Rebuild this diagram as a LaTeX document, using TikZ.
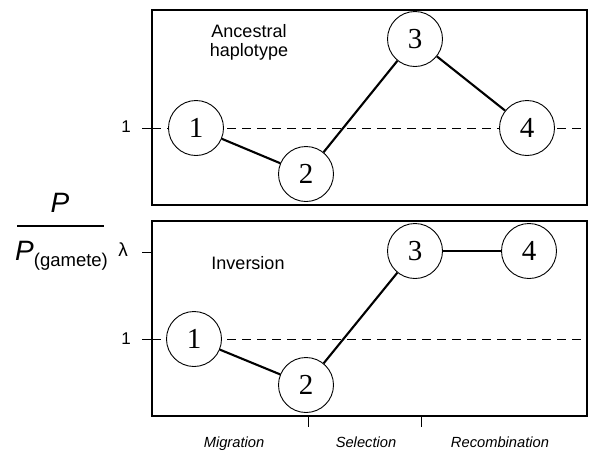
\documentclass[tikz,border=0pt]{standalone}
\usepackage{fontspec}
\setmainfont{Liberation Serif}
\setsansfont{Liberation Sans}
\begin{document}
\begin{tikzpicture}[x=1pt,y=-1pt,
  state/.style={circle, draw, line width=0.9pt, minimum size=55pt, inner sep=0pt, fill=white,
    font=\rmfamily\fontsize{29}{29}\selectfont},
  link/.style={line width=2.1pt},
  frame/.style={line width=1.3pt},
  frameshade/.style={line width=2.2pt},
  refline/.style={line width=1pt, dash pattern=on 9pt off 6pt},
  tick/.style={line width=1pt},
  panellab/.style={font=\sffamily\fontsize{18}{19}\selectfont, align=center},
  axlab/.style={font=\sffamily\itshape\fontsize{14.7}{16}\selectfont, anchor=base},
  ticklab/.style={font=\sffamily\fontsize{17}{17}\selectfont},
  biglab/.style={font=\sffamily\itshape\fontsize{28}{28}\selectfont, inner sep=0pt}
]
\useasboundingbox (0,0) rectangle (590,451);

% ---------- top panel ----------
\coordinate (TA) at (152,10);
\coordinate (TB) at (587,205);
\draw[frame] (TA) rectangle (TB);
\draw[frameshade] (152,205) -- (587,205) -- (587,10);
\coordinate (tt1) at (142,128);
\coordinate (tt2) at (152,128);
\coordinate (td2) at (587,128);
\draw[tick] (tt1) -- (tt2);
\draw[refline] (tt2) -- (td2);
\node[ticklab] (tone) at (126,127) {1};

\node[panellab] (anc) at (249,42) {Ancestral\\haplotype};

\node[state] (a1) at (196,128) {1};
\node[state] (a2) at (306,174) {2};
\node[state] (a3) at (415,39) {3};
\node[state] (a4) at (527,128) {4};
\draw[link] (a1) -- (a2);
\draw[link] (a2) -- (a3);
\draw[link] (a3) -- (a4);

% ---------- bottom panel ----------
\coordinate (BA) at (152,221);
\coordinate (BB) at (587,416);
\draw[frame] (BA) rectangle (BB);
\draw[frameshade] (152,416) -- (587,416) -- (587,221);
\coordinate (bt1) at (142,339);
\coordinate (bt2) at (152,339);
\coordinate (bd2) at (587,339);
\draw[tick] (bt1) -- (bt2);
\draw[refline] (bt2) -- (bd2);
\node[ticklab] (bone) at (126,339) {1};
\coordinate (lt1) at (142,252);
\coordinate (lt2) at (152,252);
\draw[tick] (lt1) -- (lt2);
\node[font=\sffamily\fontsize{19}{19}\selectfont] (lam) at (123,250) {λ};

\node[panellab] (inv) at (248,263) {Inversion};

\node[state] (b1) at (194,339) {1};
\node[state] (b2) at (306,385) {2};
\node[state] (b3) at (415,251) {3};
\node[state] (b4) at (529,251) {4};
\draw[link] (b1) -- (b2);
\draw[link] (b2) -- (b3);
\draw[link] (b3) -- (b4);

% ---------- x-axis ----------
\coordinate (x1a) at (308,416);
\coordinate (x1b) at (308,427);
\coordinate (x2a) at (421,416);
\coordinate (x2b) at (421,427);
\draw[tick] (x1a) -- (x1b);
\draw[tick] (x2a) -- (x2b);
\node[axlab] (mig) at (234,447) {Migration};
\node[axlab] (sel) at (366,447) {Selection};
\node[axlab] (rec) at (500,447) {Recombination};

% ---------- y label ----------
\node[biglab, anchor=base] (num) at (60,212) {P};
\coordinate (fr1) at (17,226);
\coordinate (fr2) at (104,226);
\draw[line width=2pt] (fr1) -- (fr2);
\node[biglab, anchor=base west] (den) at (15,260) {P\raisebox{-6pt}{\upshape\fontsize{18.5}{18.5}\selectfont (gamete)}};
\end{tikzpicture}
\end{document}
